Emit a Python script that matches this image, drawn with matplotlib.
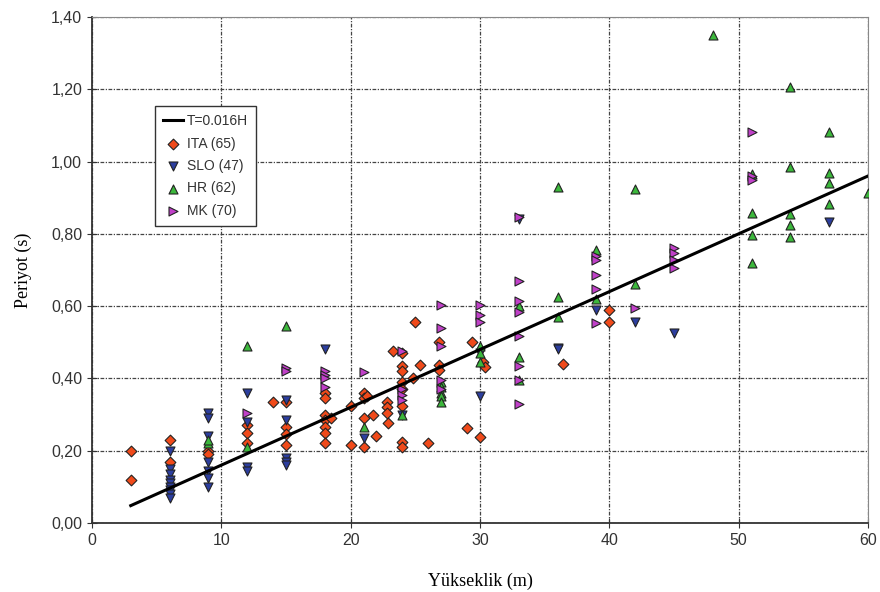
import numpy as np
import matplotlib.pyplot as plt

# ITA (65) - red diamonds
ita_h = [3, 3, 6, 6, 9, 9, 12, 12, 12, 14, 15, 15, 15, 15,
         18, 18, 18, 18, 18, 18, 18, 18.5, 20, 20, 21, 21, 21, 21,
         21.3, 21.7, 22, 22.8, 22.8, 22.8, 22.9, 23.3, 24, 24, 24, 24,
         24, 24, 24, 24, 24.8, 25, 25.4, 26, 26.8, 26.8, 26.8, 29, 29.4,
         30, 30.2, 30.4, 36.4, 40, 40]
ita_t = [0.20, 0.12, 0.23, 0.17, 0.20, 0.19, 0.27, 0.25, 0.22, 0.335, 0.335, 0.265, 0.245, 0.215,
         0.36, 0.345, 0.30, 0.285, 0.265, 0.25, 0.22, 0.29, 0.325, 0.215, 0.36, 0.345, 0.29, 0.21,
         0.35, 0.30, 0.24, 0.335, 0.32, 0.305, 0.277, 0.475, 0.47, 0.435, 0.42, 0.39,
         0.37, 0.325, 0.225, 0.21, 0.40, 0.555, 0.437, 0.22, 0.50, 0.437, 0.423, 0.263, 0.50,
         0.238, 0.446, 0.432, 0.44, 0.59, 0.555]

# SLO (47) - blue down triangles
slo_h = [6, 6, 6, 6, 6, 6, 6, 6, 6,
         9, 9, 9, 9, 9, 9, 9,
         12, 12, 12, 12,
         15, 15, 15, 15, 15,
         18, 21, 24, 30, 30, 33, 36, 36, 39, 42, 45, 57]
slo_t = [0.20, 0.15, 0.135, 0.12, 0.11, 0.10, 0.09, 0.08, 0.07,
         0.305, 0.29, 0.24, 0.17, 0.145, 0.125, 0.10,
         0.36, 0.28, 0.155, 0.145,
         0.34, 0.285, 0.18, 0.17, 0.16,
         0.48, 0.235, 0.30, 0.35, 0.47, 0.84, 0.485, 0.48, 0.59, 0.555, 0.525, 0.833]

# HR (62) - green up triangles
hr_h = [9, 9, 12, 12, 15, 21, 24, 27, 27, 27, 27, 27,
        30, 30, 30, 33, 33, 33, 36, 36, 36, 39, 39, 42, 42, 48,
        51, 51, 51, 51, 54, 54, 54, 54, 54, 57, 57, 57, 57, 60]
hr_t = [0.22, 0.23, 0.49, 0.21, 0.545, 0.265, 0.30, 0.39, 0.375, 0.36, 0.35, 0.335,
        0.49, 0.47, 0.445, 0.60, 0.46, 0.395, 0.93, 0.625, 0.57, 0.755, 0.62, 0.925, 0.66, 1.35,
        0.966, 0.858, 0.797, 0.72, 1.205, 0.985, 0.855, 0.825, 0.79, 1.082, 0.968, 0.94, 0.883, 0.913]

# MK (70) - magenta right triangles
mk_h = [12, 15, 15, 18, 18, 18, 18, 21, 24, 24, 24, 24,
        27, 27, 27, 27, 27, 30, 30, 30,
        33, 33, 33, 33, 33, 33, 33, 33,
        39, 39, 39, 39, 39, 42, 45, 45, 45, 45, 51, 51, 51]
mk_t = [0.305, 0.43, 0.42, 0.42, 0.41, 0.40, 0.375, 0.418, 0.476, 0.37, 0.355, 0.34,
        0.603, 0.54, 0.49, 0.395, 0.37, 0.603, 0.575, 0.555,
        0.847, 0.67, 0.615, 0.585, 0.517, 0.435, 0.395, 0.33,
        0.74, 0.728, 0.686, 0.647, 0.553, 0.595, 0.76, 0.747, 0.728, 0.705, 1.082, 0.96, 0.95]

# fit line T = 0.016H
line_h = np.array([3, 60])
line_t = 0.016 * line_h

plt.rcParams['font.family'] = ['Liberation Sans', 'DejaVu Sans']

fig = plt.figure(figsize=(8.8, 5.92), dpi=100)
ax = fig.add_axes([0.1045, 0.1166, 0.8818, 0.8547])

ax.plot(line_h, line_t, color='black', lw=2.2, label='T=0.016H', zorder=5)
mk_kw = dict(s=42, edgecolors='#222222', linewidths=0.8, zorder=4)
ax.scatter(ita_h, ita_t, marker='D', color='#F04A1A', label='ITA (65)', s=30,
           edgecolors='#222222', linewidths=0.8, zorder=4)
ax.scatter(slo_h, slo_t, marker='v', color='#2C3E9E', label='SLO (47)', **mk_kw)
ax.scatter(hr_h, hr_t, marker='^', color='#3CB83C', label='HR (62)', **mk_kw)
ax.scatter(mk_h, mk_t, marker='>', color='#C040C8', label='MK (70)', **mk_kw)

ax.set_xlim(0, 60)
ax.set_ylim(0, 1.4)
ax.set_xticks(np.arange(0, 61, 10))
ax.set_yticks(np.arange(0, 1.41, 0.2))
ax.set_yticklabels([('%.2f' % v).replace('.', ',') for v in np.arange(0, 1.41, 0.2)])
ax.tick_params(labelsize=11.5, color='#333333', labelcolor='#333333',
               direction='inout', length=7)

ax.grid(True, color='#444444', linestyle=(0, (3, 1.2, 1, 1.2)), lw=0.9)
for side in ['top', 'right']:
    ax.spines[side].set_color('#888888')
    ax.spines[side].set_linewidth(0.8)
for side in ['left', 'bottom']:
    ax.spines[side].set_color('#333333')
    ax.spines[side].set_linewidth(1.3)

ax.set_xlabel('Yükseklik (m)', family='Liberation Serif', fontsize=13, labelpad=18)
ax.set_ylabel('Periyot (s)', family='Liberation Serif', fontsize=13, labelpad=14)

leg = ax.legend(loc='upper left', bbox_to_anchor=(0.072, 0.838), fontsize=10,
                frameon=True, fancybox=False, edgecolor='#333333', framealpha=1,
                handlelength=1.4, handletextpad=0.3, borderpad=0.6, labelspacing=0.6)
leg.get_frame().set_linewidth(1.0)
for t in leg.get_texts():
    t.set_color('#333333')

fig.savefig('out.png', dpi=100)
